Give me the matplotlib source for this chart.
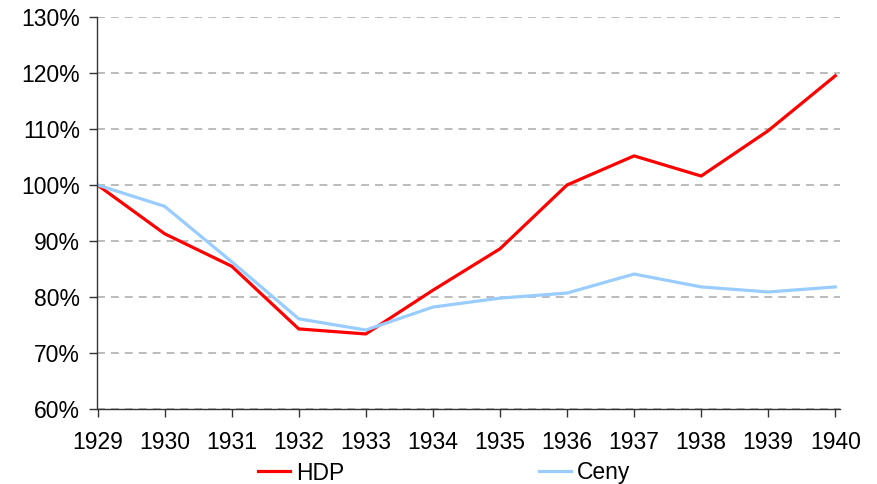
import matplotlib
matplotlib.use("Agg")
import matplotlib.pyplot as plt
from matplotlib.ticker import FuncFormatter

plt.rcParams['font.family'] = ['Liberation Sans', 'DejaVu Sans']

years = [1929, 1930, 1931, 1932, 1933, 1934, 1935, 1936, 1937, 1938, 1939, 1940]
hdp = [100, 91.3, 85.5, 74.3, 73.4, 81.2, 88.6, 100, 105.2, 101.6, 109.7, 119.5]
ceny = [100, 96.2, 86.3, 76.1, 74.1, 78.2, 79.8, 80.7, 84.1, 81.8, 80.9, 81.8]

fig = plt.figure(figsize=(8.78, 4.84), dpi=100)
ax = fig.add_axes([97.5/878, 1-409/484, (840-97.5)/878, (409-17)/484])

ax.plot(years, hdp, color='#ff0000', lw=2.3, label='HDP', solid_joinstyle='round')
ax.plot(years, ceny, color='#99ccff', lw=2.3, label='Ceny', solid_joinstyle='round')

ax.set_ylim(60, 130)
ax.set_xlim(1929, 1940.07)
ax.set_yticks(range(60, 131, 10))
ax.set_xticks(years)
ax.yaxis.set_major_formatter(FuncFormatter(lambda v, p: f"{int(v)}%"))

ax.grid(axis='y', color='#aaaaaa', linestyle=(0, (5.2, 3.9)), lw=1.1)
ax.set_axisbelow(True)
for s in ['top', 'right']:
    ax.spines[s].set_visible(False)
for s in ['left', 'bottom']:
    ax.spines[s].set_color('#333333')
    ax.spines[s].set_linewidth(1.0)

ax.tick_params(axis='both', colors='#333333', labelcolor='black', labelsize=16.5, length=5.5, width=1)
ax.tick_params(axis='y', pad=7)
ax.tick_params(axis='x', pad=10.5)

ax.legend(loc='center left', bbox_to_anchor=(258/878, 1-473/484),
          bbox_transform=fig.transFigure, ncol=2, frameon=False,
          fontsize=16.5, handlelength=1.4, handletextpad=0.25, columnspacing=8.5,
          borderpad=0, borderaxespad=0)

fig.savefig("out.png", dpi=100)
